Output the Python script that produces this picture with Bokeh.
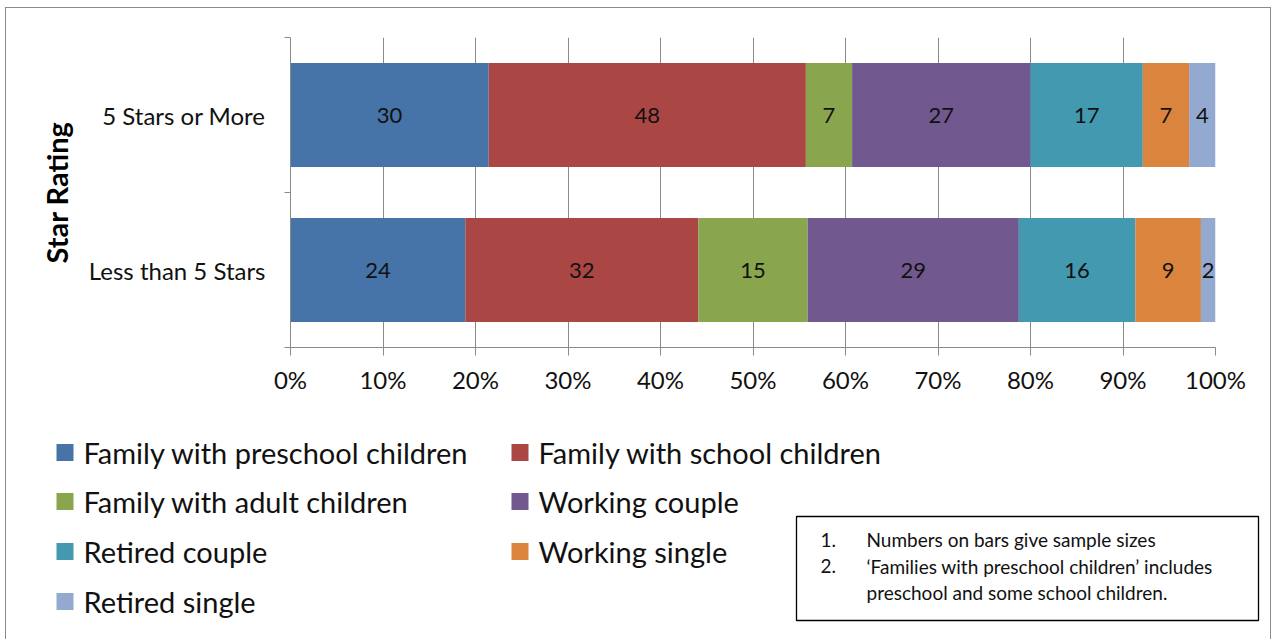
from bokeh.plotting import figure
from bokeh.layouts import column, row
from bokeh.models import (Range1d, FixedTicker, NumeralTickFormatter, ColumnDataSource)
from bokeh.core.properties import value
from bokeh.embed import file_html
from bokeh.resources import INLINE

# ---------------- data ----------------
categories = ["Less than 5 Stars", "5 Stars or More"]
series = ["Family with preschool children", "Family with school children",
          "Family with adult children", "Working couple", "Retired couple",
          "Working single", "Retired single"]
counts_less = [24, 32, 15, 29, 16, 9, 2]
counts_more = [30, 48, 7, 27, 17, 7, 4]
colors = ["#4674A8", "#AA4644", "#89A54E", "#71588F", "#4299B0", "#DB843D", "#93A9CF"]
x_ticks = [0.0, 0.1, 0.2, 0.3, 0.4, 0.5, 0.6, 0.7, 0.8, 0.9, 1.0]
y_title = "Star Rating"
notes_num = ["1.", "2.", ""]
notes_txt = ["Numbers on bars give sample sizes",
             "\u2018Families with preschool children\u2019 includes",
             "preschool and some school children."]

FONT = "Lato"
OX, OY = 6, 8             # page offset of content (inside the border)
TW, TH = 1264, 392        # top figure size
BH = 240                  # bottom figure height
FL, FT, FR, FB = 290, 37, 1215, 347  # frame edges, page px

# ---------------- chart ----------------
p = figure(width=TW, height=TH, output_backend="svg", toolbar_location=None,
           x_range=Range1d(0, 1), y_range=Range1d(0, 2),
           min_border_left=FL - OX, min_border_right=OX + TW - FR,
           min_border_top=FT - OY, min_border_bottom=OY + TH - FB)
p.outline_line_color = None

p.ygrid.grid_line_color = None
p.xgrid.ticker = FixedTicker(ticks=x_ticks)
p.xgrid.grid_line_color = "#8a8a8a"

xa = p.xaxis[0]
xa.ticker = FixedTicker(ticks=x_ticks)
xa.formatter = NumeralTickFormatter(format="0%")
xa.axis_line_color = "#8a8a8a"
xa.major_tick_line_color = "#8a8a8a"
xa.major_tick_out = 8
xa.major_tick_in = 0
xa.minor_tick_line_color = None
xa.major_label_text_font = FONT
xa.major_label_text_font_size = "24px"
xa.major_label_text_color = "#111111"
xa.major_label_standoff = 9

ya = p.yaxis[0]
cat_y = [0.5, 1.5]
ya.ticker = FixedTicker(ticks=cat_y, minor_ticks=[0, 1, 2])
ya.major_label_overrides = {0.5: categories[0], 1.5: categories[1]}
ya.axis_line_color = "#8a8a8a"
ya.major_tick_out = 0
ya.major_tick_in = 0
ya.minor_tick_line_color = "#8a8a8a"
ya.minor_tick_out = 6
ya.minor_tick_in = 0
ya.major_label_text_font = FONT
ya.major_label_text_font_size = "24px"
ya.major_label_text_color = "#111111"
ya.major_label_standoff = 19
ya.axis_label = y_title
ya.axis_label_text_font = FONT
ya.axis_label_text_font_size = "29px"
ya.axis_label_text_font_style = "bold"
ya.axis_label_text_color = "#000000"
ya.axis_label_standoff = 12

bar_h = 0.67
rows = [counts_less, counts_more]
lbl_x, lbl_y, lbl_t = [], [], []
for i, name in enumerate(series):
    lefts, rights = [], []
    for r, counts in enumerate(rows):
        tot = float(sum(counts))
        left = sum(counts[:i]) / tot
        right = left + counts[i] / tot
        lefts.append(left)
        rights.append(right)
        lbl_x.append((left + right) / 2)
        lbl_y.append(cat_y[r])
        lbl_t.append(str(counts[i]))
    src = ColumnDataSource(dict(y=cat_y, left=lefts, right=rights))
    p.hbar(y="y", left="left", right="right", height=bar_h, source=src,
           fill_color=colors[i], line_color=None)

p.text(x=lbl_x, y=lbl_y, text=lbl_t, text_align="center", text_baseline="middle",
       text_font=value(FONT), text_font_size="22px", text_color="#111111")

# ---------------- legend + notes (pixel-space figure) ----------------
q = figure(width=TW, height=BH, output_backend="svg", toolbar_location=None,
           x_range=Range1d(OX, OX + TW), y_range=Range1d(OY + TH + BH, OY + TH),
           min_border=0, x_axis_location=None, y_axis_location=None)
q.outline_line_color = None
q.grid.grid_line_color = None

col_x = [56, 511]
row_y = [452, 501, 551, 601]
sq = 17
lx, ly, lc, tx, tt = [], [], [], [], []
for n, name in enumerate(series):
    c, r = n % 2, n // 2
    lx.append(col_x[c] + sq / 2)
    ly.append(row_y[r])
    lc.append(colors[n])
    tx.append(col_x[c] + sq + 10)
    tt.append(name)
q.rect(x=lx, y=ly, width=sq, height=sq, fill_color=lc, line_color=None)
q.text(x=tx, y=ly, text=tt, text_align="left", text_baseline="middle",
       text_font=value(FONT), text_font_size="29px", text_color="#111111")

q.quad(left=[796], right=[1258], top=[516], bottom=[620], fill_alpha=0,
       line_color="#000000", line_width=1.3)
note_y = [539, 565.5, 592]
q.text(x=[820] * 3, y=note_y, text=notes_num, text_align="left", text_baseline="middle",
       text_font=value(FONT), text_font_size="19px", text_color="#111111")
q.text(x=[866] * 3, y=note_y, text=notes_txt, text_align="left", text_baseline="middle",
       text_font=value(FONT), text_font_size="19px", text_color="#111111")

layout = column(p, row(q, spacing=0), spacing=0,
                styles={"border": "1px solid #8a8a8a", "margin-left": "5px",
                        "margin-top": "7px"})

open("out.html", "w").write(file_html(layout, INLINE))
